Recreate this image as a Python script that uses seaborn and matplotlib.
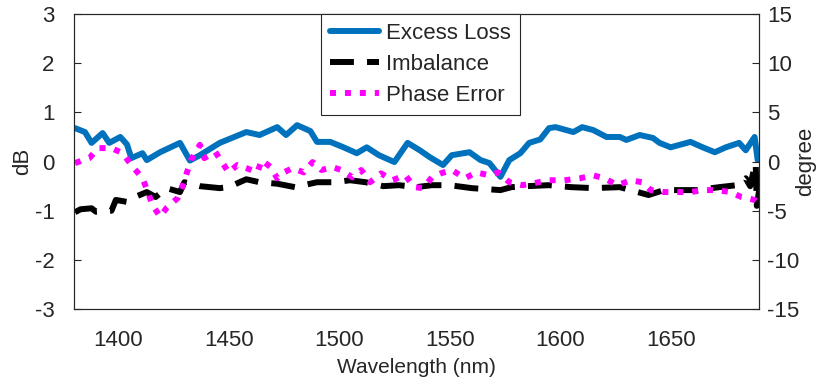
import numpy as np
import matplotlib
matplotlib.use("Agg")
import matplotlib.pyplot as plt
import seaborn as sns

# wavelength (nm) / excess loss (dB)
el_wl = [1380.5, 1385, 1388, 1393, 1396, 1401, 1404, 1406, 1411, 1413, 1419, 1428,
         1432.5, 1437, 1446, 1458, 1464, 1472, 1476, 1481, 1487, 1490, 1496, 1502,
         1508, 1512.5, 1518, 1525, 1531, 1536.5, 1541, 1547, 1551, 1559, 1564, 1568,
         1573, 1577, 1582, 1586, 1591, 1595, 1598, 1606, 1610, 1615, 1621, 1627, 1630,
         1636, 1642, 1645, 1650, 1659, 1664.5, 1670, 1675, 1681, 1684, 1688, 1689.4]
el_db = [0.68, 0.6, 0.38, 0.58, 0.38, 0.50, 0.35, 0.07, 0.17, 0.03, 0.19, 0.38,
         0.02, 0.13, 0.38, 0.6, 0.54, 0.7, 0.54, 0.74, 0.62, 0.40, 0.40, 0.29,
         0.17, 0.29, 0.13, -0.01, 0.38, 0.23, 0.09, -0.07, 0.13, 0.19, 0.03, -0.03,
         -0.31, 0.03, 0.17, 0.38, 0.45, 0.68, 0.7, 0.6, 0.7, 0.64, 0.5, 0.5, 0.44,
         0.54, 0.48, 0.38, 0.29, 0.4, 0.29, 0.19, 0.29, 0.38, 0.23, 0.5, 0.03]

# wavelength (nm) / imbalance (dB)
im_wl = [1380.5, 1383, 1388, 1390, 1397, 1399, 1404, 1406, 1413, 1417, 1422, 1428,
         1430, 1437, 1446, 1450, 1458, 1464, 1472, 1480, 1490, 1498, 1505, 1512,
         1520, 1527, 1535, 1542, 1550, 1560, 1573, 1578, 1585, 1595, 1605, 1615,
         1627, 1640, 1647, 1655, 1662, 1672, 1680, 1684, 1686, 1687.5, 1688.5, 1689, 1690]
im_db = [-1.03, -0.97, -0.95, -1.02, -1.0, -0.78, -0.82, -0.75, -0.62, -0.72, -0.54, -0.62,
         -0.42, -0.5, -0.54, -0.52, -0.36, -0.42, -0.45, -0.52, -0.42, -0.42, -0.38, -0.42,
         -0.5, -0.48, -0.52, -0.48, -0.48, -0.54, -0.58, -0.52, -0.5, -0.48, -0.52, -0.54,
         -0.52, -0.68, -0.58, -0.58, -0.58, -0.52, -0.48, -0.34, -0.5, -0.2, -0.03, -0.9, -0.6]

# wavelength (nm) / phase error (degree)
pe_wl = [1380.5, 1387, 1391, 1397, 1402, 1406, 1411, 1413.5, 1415.5, 1419, 1422, 1427,
         1429, 1431, 1433, 1437, 1439, 1444, 1447, 1450, 1454, 1458, 1463, 1465, 1469,
         1472, 1475, 1479, 1484, 1488, 1492, 1497, 1501, 1506, 1510, 1514, 1519, 1524,
         1530, 1534, 1538, 1542, 1546, 1551, 1557, 1562, 1568, 1572, 1577, 1583, 1588,
         1595, 1602, 1609, 1615, 1620, 1626, 1632, 1637, 1641, 1647, 1653, 1659, 1665,
         1671, 1677, 1682, 1688, 1689.4]
pe_deg = [-0.15, 0.35, 1.37, 1.37, 0.86, -0.35, -1.68, -3.1, -4.4, -5.6, -4.7, -3.7,
          -2.6, -1.2, 0.15, 1.7, 0.35, 0.97, -0.05, -1.1, -0.35, -0.66, -1.1, 0.15, -0.56,
          -1.7, -1.1, -0.66, -1.1, -0.05, -0.86, -0.56, -0.86, -1.6, -0.86, -2.1, -1.2, -1.9,
          -1.4, -2.6, -2.7, -1.6, -1.2, -0.86, -1.7, -1.1, -1.4, -1.1, -2.1, -2.4, -2.2,
          -1.9, -1.9, -1.7, -1.4, -1.7, -2.4, -1.9, -2.1, -2.9, -3.1, -3.1, -3.1, -2.9,
          -2.9, -3.1, -3.6, -3.9, -4.2]

sns.set_theme(style="white")
plt.rcParams['font.family'] = ['Liberation Sans', 'DejaVu Sans']
plt.rcParams['axes.unicode_minus'] = False
plt.rcParams['axes.edgecolor'] = '#262626'
plt.rcParams['xtick.color'] = '#262626'
plt.rcParams['ytick.color'] = '#262626'

fig = plt.figure(figsize=(8.21, 3.84), dpi=100)
ax = fig.add_axes([0.090, 0.195, 0.8345, 0.7685])
ax2 = ax.twinx()

lw = 4.3
sns.lineplot(x=el_wl, y=el_db, ax=ax, color='#0072BD', lw=lw, label='Excess Loss',
             sort=False, legend=False)
sns.lineplot(x=im_wl, y=im_db, ax=ax, color='black', lw=lw, label='Imbalance',
             sort=False, legend=False)
ax.lines[-1].set_dashes((4, 2.2))
sns.lineplot(x=pe_wl, y=pe_deg, ax=ax2, color='#FF00FF', lw=lw, label='Phase Error',
             sort=False, legend=False)
ax2.lines[-1].set_dashes((1, 1.5))

ax.set_xlim(1380, 1690)
ax.set_ylim(-3, 3)
ax2.set_ylim(-15, 15)
ax.set_xticks([1400, 1450, 1500, 1550, 1600, 1650])
ax.set_yticks([-3, -2, -1, 0, 1, 2, 3])
ax2.set_yticks([-15, -10, -5, 0, 5, 10, 15])

fs = 16
ax.set_xlabel('Wavelength (nm)', fontsize=15, color='#262626')
ax.set_ylabel('dB', fontsize=fs, color='#262626')
ax2.set_ylabel('degree', fontsize=fs, color='#262626')
ax.xaxis.set_label_coords(0.5, -0.165)
ax.yaxis.set_label_coords(-0.060, 0.5)
ax2.yaxis.set_label_coords(1.052, 0.5)
for a in (ax, ax2):
    a.tick_params(direction='in', length=5, width=0.8, labelsize=fs)
    for s in a.spines.values():
        s.set_linewidth(0.8)
        s.set_color('#262626')
ax.tick_params(axis='x', top=False, pad=15)
ax.tick_params(axis='y', pad=14)
ax2.tick_params(axis='y', pad=6)

h1, l1 = ax.get_legend_handles_labels()
h2, l2 = ax2.get_legend_handles_labels()
leg = ax2.legend(h1 + h2, l1 + l2, loc='upper center', bbox_to_anchor=(0.506, 1.0),
                 fontsize=fs, frameon=True, fancybox=False, edgecolor='#262626',
                 framealpha=1, handlelength=2.2, borderaxespad=0, labelspacing=0.45,
                 handletextpad=0.3, borderpad=0.4)
leg.get_frame().set_linewidth(0.8)

fig.savefig('out.png', dpi=100)
